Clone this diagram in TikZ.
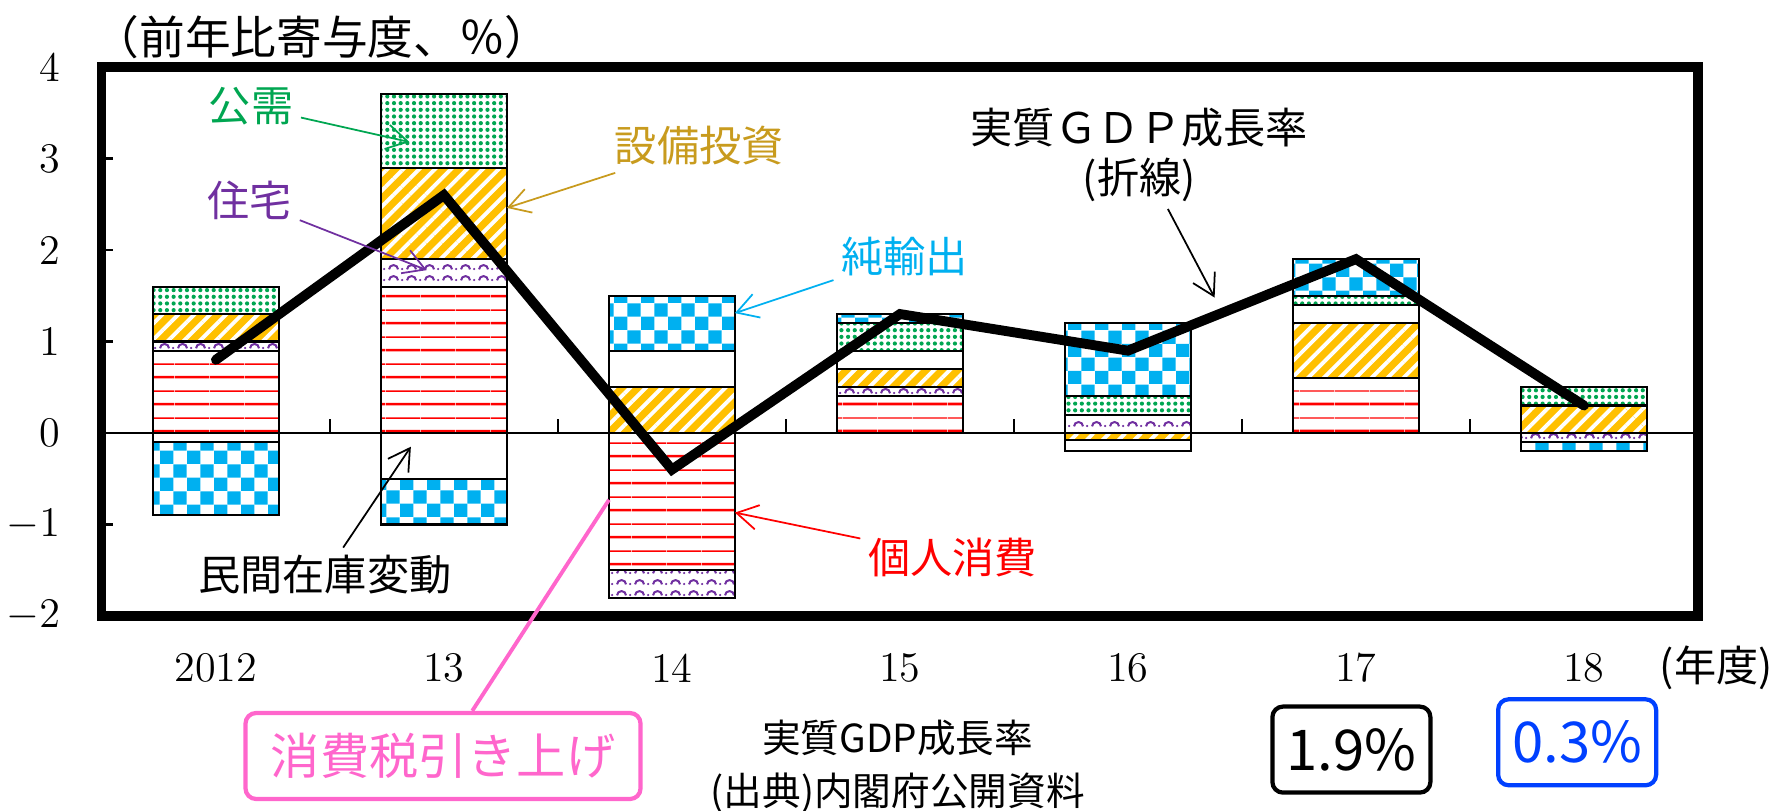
\documentclass[tikz,border=0pt]{standalone}
\usepackage{fontspec}
\usepackage{tikz}
\usetikzlibrary{patterns.meta, arrows.meta}
\newfontfamily\jp{Noto Sans CJK JP}

\definecolor{consred}{RGB}{255,0,0}
\definecolor{housepurple}{RGB}{112,48,160}
\definecolor{capexgold}{RGB}{255,192,0}
\definecolor{capextext}{RGB}{200,155,30}
\definecolor{govgreen}{RGB}{0,166,81}
\definecolor{netexcyan}{RGB}{0,176,240}
\definecolor{taxpink}{RGB}{255,102,204}
\definecolor{rateblue}{RGB}{0,64,255}

\tikzdeclarepattern{
  name = redlines, type = uncolored,
  bounding box = {(0,0) and (10pt,7.6pt)},
  tile size = {(10pt,7.6pt)},
  code = {
    \fill (0,1.6pt) rectangle (10pt,2.35pt);
    \fill (0,5.5pt) rectangle (10pt,5.9pt);
  }
}
\tikzdeclarepattern{
  name = checker, type = uncolored,
  bounding box = {(0,0) and (7.6pt,7.6pt)},
  tile size = {(7.6pt,7.6pt)},
  code = {
    \fill (0,0) rectangle (3.8pt,3.8pt);
    \fill (3.8pt,3.8pt) rectangle (7.6pt,7.6pt);
  }
}
\tikzdeclarepattern{
  name = waves, type = uncolored,
  bounding box = {(0,0) and (5pt,3.2pt)},
  tile size = {(5pt,3.2pt)},
  code = {
    \draw[line width=0.6pt] (0.6pt,0.8pt) arc[start angle=180, end angle=0, radius=1.3pt];
    \fill (4.4pt,0.9pt) circle [radius=0.35pt];
  }
}

\tikzset{
  segbar/.style = {draw, line width = 0.6pt},
  consbar/.style = {segbar, pattern = redlines, pattern color = consred},
  housebar/.style = {segbar, pattern = waves, pattern color = housepurple},
  capexbar/.style = {segbar, preaction = {fill = capexgold},
    pattern = {Lines[angle = 45, distance = 3.2pt, line width = 1.1pt]}, pattern color = white},
  stockbar/.style = {segbar, fill = white},
  govbar/.style = {segbar, pattern = {Dots[radius = 0.6pt, distance = 1.9pt]}, pattern color = govgreen},
  netexbar/.style = {segbar, pattern = checker, pattern color = netexcyan},
  gdpline/.style = {line width = 2.8pt, line cap = round, line join = miter},
  callout/.style = {line width = 0.5pt, -{Straight Barb[length = 6pt, width = 7pt]}},
  numlbl/.style = {font = \fontsize{12}{14}\selectfont, inner sep = 1pt},
  jplbl/.style = {font = \jp\fontsize{12}{14}\selectfont, inner sep = 2pt},
  ratebox/.style = {draw, line width = 1.2pt, rounded corners = 3pt,
    minimum width = 1.58cm, minimum height = 0.86cm, font = \jp\fontsize{16}{18}\selectfont}
}

\newcommand{\barseg}[4]{\draw[#1] (#2-0.276,#3) rectangle (#2+0.276,#4);}

\begin{document}
\begin{tikzpicture}[x=2.28cm, y=0.915cm]
  \useasboundingbox (-0.947,-4.131) rectangle (6.886,4.732);

  \barseg{consbar}{0}{0}{0.9}
  \barseg{housebar}{0}{0.9}{1.0}
  \barseg{capexbar}{0}{1.0}{1.3}
  \barseg{govbar}{0}{1.3}{1.6}
  \barseg{stockbar}{0}{0}{-0.1}
  \barseg{netexbar}{0}{-0.1}{-0.9}

  \barseg{consbar}{1}{0}{1.6}
  \barseg{housebar}{1}{1.6}{1.9}
  \barseg{capexbar}{1}{1.9}{2.9}
  \barseg{govbar}{1}{2.9}{3.7}
  \barseg{stockbar}{1}{0}{-0.5}
  \barseg{netexbar}{1}{-0.5}{-1.0}

  \barseg{capexbar}{2}{0}{0.5}
  \barseg{stockbar}{2}{0.5}{0.9}
  \barseg{netexbar}{2}{0.9}{1.5}
  \barseg{consbar}{2}{0}{-1.5}
  \barseg{housebar}{2}{-1.5}{-1.8}

  \barseg{consbar}{3}{0}{0.4}
  \barseg{housebar}{3}{0.4}{0.5}
  \barseg{capexbar}{3}{0.5}{0.7}
  \barseg{stockbar}{3}{0.7}{0.9}
  \barseg{govbar}{3}{0.9}{1.2}
  \barseg{netexbar}{3}{1.2}{1.3}

  \barseg{housebar}{4}{0}{0.2}
  \barseg{govbar}{4}{0.2}{0.4}
  \barseg{netexbar}{4}{0.4}{1.2}
  \barseg{capexbar}{4}{0}{-0.08}
  \barseg{stockbar}{4}{-0.08}{-0.2}

  \barseg{consbar}{5}{0}{0.6}
  \barseg{capexbar}{5}{0.6}{1.2}
  \barseg{stockbar}{5}{1.2}{1.4}
  \barseg{govbar}{5}{1.4}{1.5}
  \barseg{netexbar}{5}{1.5}{1.9}

  \barseg{capexbar}{6}{0}{0.3}
  \barseg{govbar}{6}{0.3}{0.5}
  \barseg{housebar}{6}{0}{-0.1}
  \barseg{netexbar}{6}{-0.1}{-0.2}

  \draw [line width = 0.8pt] (-0.5,0) -- (6.5,0);
  \foreach \x in {0.5,1.5,...,5.5}
    \draw [line width = 0.8pt] (\x,0) -- (\x,0.15);
  \foreach \y in {-1,1,2,3}
    \draw [line width = 0.8pt] (-0.5,\y) -- (-0.45,\y);
  \draw [line width = 2.6pt] (-0.5,-2) rectangle (6.5,4);

  \draw [gdpline] (0,0.8) -- (1,2.6) -- (2,-0.4) -- (3,1.3) -- (4,0.9) -- (5,1.9) -- (6,0.3);

  \foreach \v/\t in {4/4, 3/3, 2/2, 1/1, 0/0, -1/$-1$, -2/$-2$}
    \node [numlbl, anchor = east] (ylbl\v) at (-0.665,\v) {\t};
  \foreach \x/\t in {0/2012, 1/13, 2/14, 3/15, 4/16, 5/17, 6/18}
    \node [numlbl] (xlbl\x) at (\x,-2.57) {\t};
  \node [jplbl] (unitlbl) at (6.58,-2.57) {(年度)};
  \node [jplbl, anchor = west, font = \jp\fontsize{13}{15}\selectfont] (titlelbl)
    at (-0.57,4.33) {（前年比寄与度、％）};

  \node [jplbl, text = govgreen] (govlbl) at (0.154,3.57) {公需};
  \coordinate (govtip) at (0.849,3.18);
  \draw [callout, govgreen] (govlbl) -- (govtip);

  \node [jplbl, text = capextext] (capexlbl) at (2.12,3.14) {設備投資};
  \coordinate (capextip) at (1.276,2.46);
  \draw [callout, capextext] (capexlbl) -- (capextip);

  \node [jplbl, text = housepurple] (houselbl) at (0.149,2.54) {住宅};
  \coordinate (housetip) at (0.925,1.78);
  \draw [callout, housepurple] (houselbl) -- (housetip);

  \node [jplbl, text = netexcyan] (netexlbl) at (3.02,1.93) {純輸出};
  \coordinate (netextip) at (2.276,1.31);
  \draw [callout, netexcyan] (netexlbl) -- (netextip);

  \node [jplbl, text = consred] (conslbl) at (3.23,-1.36) {個人消費};
  \coordinate (constip) at (2.276,-0.87);
  \draw [callout, consred] (conslbl) -- (constip);

  \node [jplbl] (stocklbl) at (0.478,-1.55) {民間在庫変動};
  \coordinate (stocktip) at (0.855,-0.15);
  \draw [callout] (stocklbl) -- (stocktip);

  \node [jplbl, align = center] (gdplbl) at (4.05,3.04) {実質ＧＤＰ成長率\\(折線)};
  \coordinate (gdptip) at (4.38,1.48);
  \draw [callout] (gdplbl) -- (gdptip);

  \node [draw = taxpink, line width = 1.2pt, rounded corners = 3pt, text = taxpink,
    minimum width = 3.95cm, minimum height = 0.86cm, font = \jp\fontsize{14}{16}\selectfont]
    (taxbox) at (0.996,-3.53) {消費税引き上げ};
  \coordinate (taxtip) at (1.724,-0.73);
  \draw [taxpink, line width = 1.1pt] (taxbox) -- (taxtip);

  \node [align = center, font = \jp\fontsize{11}{15}\selectfont] (srclbl) at (2.99,-3.645)
    {実質GDP成長率\\(出典)内閣府公開資料};

  \node [ratebox] (rate17) at (4.98,-3.46) {1.9\%};
  \node [ratebox, draw = rateblue, text = rateblue] (rate18) at (5.97,-3.38) {0.3\%};
\end{tikzpicture}
\end{document}
